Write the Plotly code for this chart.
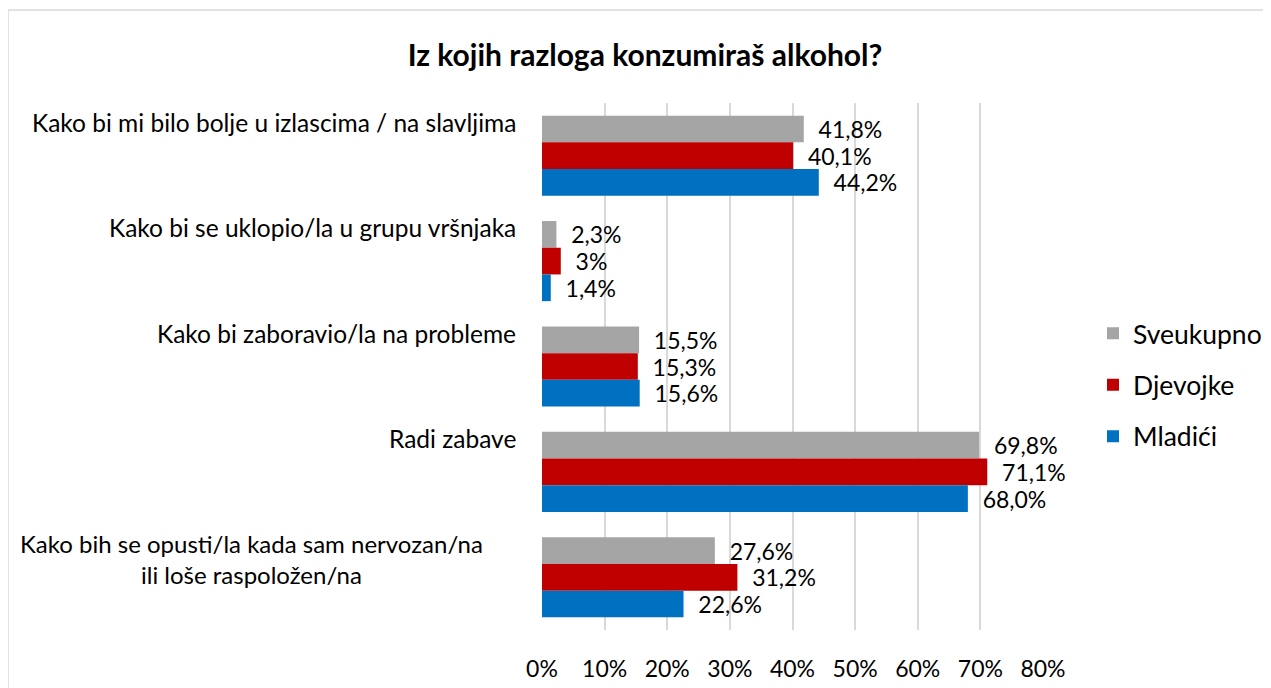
import plotly.graph_objects as go

categories = [
    "Kako bi mi bilo bolje u izlascima / na slavljima",
    "Kako bi se uklopio/la u grupu vršnjaka",
    "Kako bi zaboravio/la na probleme",
    "Radi zabave",
    "Kako bih se opusti/la kada sam nervozan/na<br>ili loše raspoložen/na",
]
series_names = ["Sveukupno", "Djevojke", "Mladići"]
sveukupno = [41.8, 2.3, 15.5, 69.8, 27.6]
djevojke = [40.1, 3.0, 15.3, 71.1, 31.2]
mladici = [44.2, 1.4, 15.6, 68.0, 22.6]
sveukupno_txt = ["41,8%", "2,3%", "15,5%", "69,8%", "27,6%"]
djevojke_txt = ["40,1%", "3%", "15,3%", "71,1%", "31,2%"]
mladici_txt = ["44,2%", "1,4%", "15,6%", "68,0%", "22,6%"]
tick_vals = [0, 10, 20, 30, 40, 50, 60, 70, 80]
tick_text = ["0%", "10%", "20%", "30%", "40%", "50%", "60%", "70%", "80%"]
colors = ["#A5A5A5", "#C00000", "#0070C0"]

FONT = "Lato, Carlito, Calibri, sans-serif"
NB = "\u00a0\u00a0"

# page is offset by the 8px body margin; plot area 534..1035 x 95..622 in figure px
L, T, W, H = 534, 95, 501, 527

fig = go.Figure()
for name, vals, txt, col in zip(series_names, [sveukupno, djevojke, mladici],
                                [sveukupno_txt, djevojke_txt, mladici_txt], colors):
    fig.add_trace(go.Bar(
        y=categories, x=vals, name=name, orientation="h",
        marker=dict(color=col, line=dict(width=0)),
        text=[NB + t for t in txt], textposition="outside",
        textfont=dict(size=23, color="#000000", family=FONT),
        constraintext="none", cliponaxis=False, legendgroup=name,
    ))

# category labels (top-aligned within each band, like the original)
for i, c in enumerate(categories):
    last = i == len(categories) - 1
    fig.add_annotation(
        x=0, xref="x", y=c, yref="y", xanchor="right", yanchor="top",
        xshift=-57 if last else -24, yshift=50,
        text=c, showarrow=False, align="center" if last else "right",
        font=dict(size=24.5 if not last else 24, color="#000000", family=FONT),
    )

fig.update_layout(
    width=1271, height=688,
    margin=dict(l=L, r=1271 - L - W, t=T, b=688 - T - H),
    paper_bgcolor="white", plot_bgcolor="white",
    barmode="group", bargap=0.24, bargroupgap=0,
    title=dict(text="<b>Iz kojih razloga konzumiraš alkohol?</b>", x=(637 - 0) / 1271,
               xanchor="center", y=1 - 47 / 688, yanchor="middle",
               font=dict(size=30, color="#000000", family=FONT)),
    legend=dict(x=(1085 - L) / W, y=(T + H - 377) / H, xanchor="left", yanchor="middle",
                font=dict(size=26.5, color="#000000", family=FONT),
                traceorder="grouped", tracegroupgap=14, itemwidth=30),
    showlegend=True,
    shapes=[dict(type="rect", xref="paper", yref="paper",
                 x0=(0 - L) / W, x1=(1257 - L) / W,
                 y0=(T + H - 700) / H, y1=(T + H - 2) / H,
                 line=dict(color="#D9D9D9", width=1.5), fillcolor="rgba(0,0,0,0)", layer="below")],
)
fig.update_xaxes(range=[0, 80], tickvals=tick_vals, ticktext=tick_text, showgrid=True,
                 gridcolor="#D9D9D9", gridwidth=2, zeroline=False, showline=False,
                 ticks="outside", ticklen=18, tickcolor="rgba(0,0,0,0)",
                 tickfont=dict(size=23, color="#000000", family=FONT))
fig.update_yaxes(autorange="reversed", showticklabels=False, showgrid=False,
                 zeroline=False, showline=False)

fig.write_html("out.html")
